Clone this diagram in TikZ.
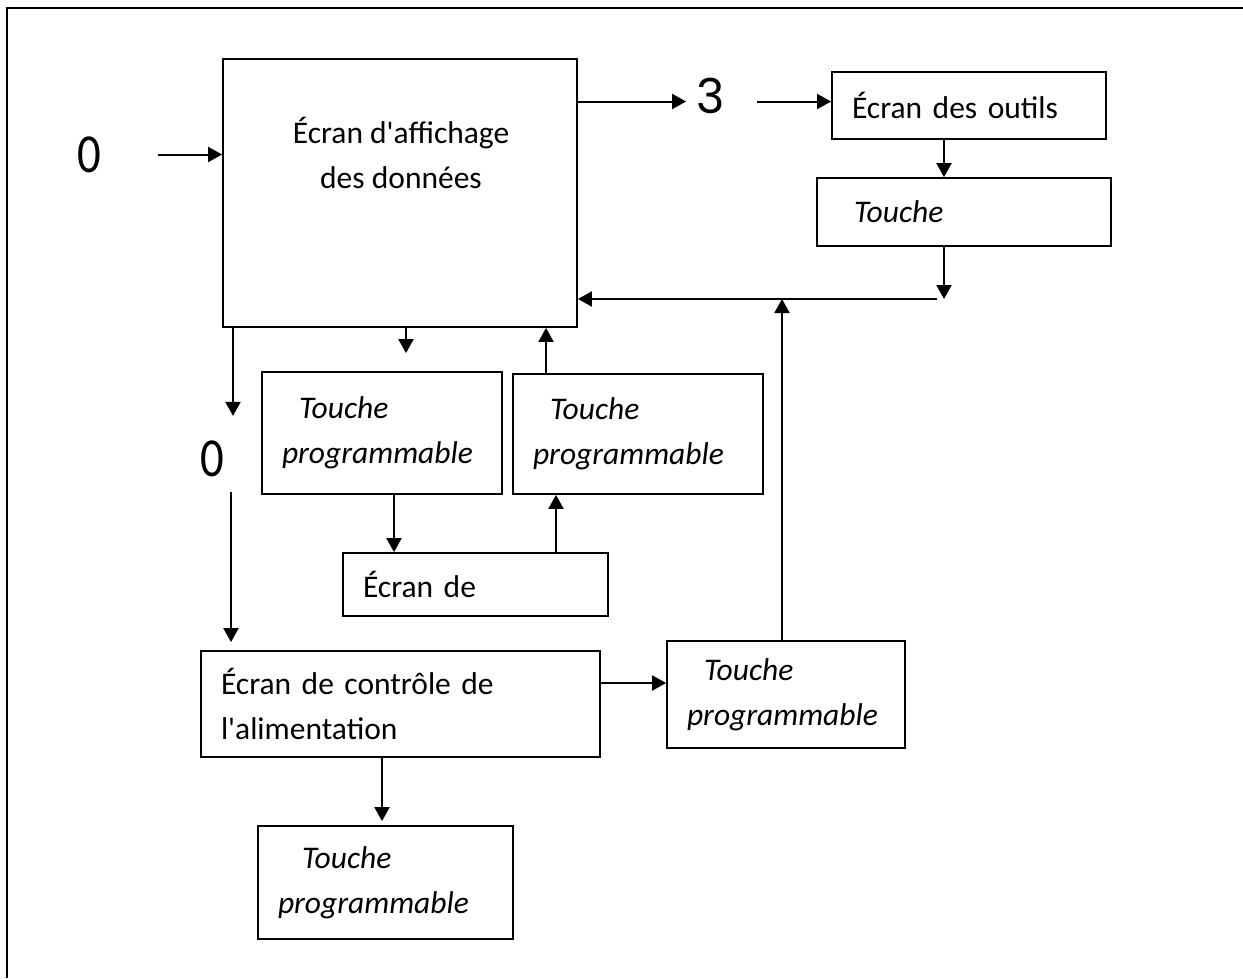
\documentclass[tikz,border=0pt]{standalone}
\usepackage{fontspec}
\setmainfont{Carlito}
\newfontfamily\threefont{Poppins}
\usepackage{xcolor}
\usepackage{tikz}
\usetikzlibrary{arrows.meta,positioning}

\begin{document}
\begin{tikzpicture}[
        x=1pt, y=-1pt,
        every node/.style={font=\fontsize{31.5}{45}\selectfont},
        box/.style={draw, line width=1.8pt, inner xsep=20pt, inner ysep=0pt, align=left},
        key/.style={box, font=\fontsize{31.5}{45}\selectfont\itshape},
        num/.style={inner sep=0pt, xscale=0.85, font=\fontsize{55}{55}\selectfont},
        arr/.style={-{Triangle[length=14pt,width=15pt]}, line width=2pt}]

    \useasboundingbox (0,0) rectangle (1243,978);
    \draw[line width=2.5pt] (7,978) -- (7,8) -- (1243,8);

    % screens
    \node[box, minimum width=354pt, minimum height=268pt] (data) at (400,193) {};
    \node[align=center] (datatxt) at (401,153) {Écran d\textquotesingle affichage\\des données};
    \node[box, text width=234pt, minimum height=67pt] (tools) at (969,105.5) {Écran des outils};
    \node[key, text width=254pt, minimum height=68pt] (toolkey) at (964,212) {\hspace{17pt}Touche};
    \node[key, text width=200pt, minimum height=122pt] (softA) at (382,433) {\hspace{17pt}Touche\\programmable};
    \node[key, text width=210pt, minimum height=120pt] (softB) at (638,434) {\hspace{17pt}Touche\\programmable};
    \node[box, text width=225pt, minimum height=63pt] (sub) at (475.5,584.5) {Écran de};
    \node[box, text width=359pt, minimum height=106pt] (power) at (400.5,704) {Écran de contrôle de\\l\textquotesingle alimentation};
    \node[key, text width=198pt, minimum height=107pt] (softC) at (786,694.5) {\hspace{17pt}Touche\\programmable};
    \node[key, text width=215pt, minimum height=113pt] (softD) at (385.5,882.5) {\hspace{24pt}Touche\\programmable};

    % labels
    \node[num] (zeroA) at (89.5,154.5) {0};
    \node[num] (zeroB) at (212,459) {0};
    \node[inner sep=0pt, font=\threefont\fontsize{48}{48}\selectfont] (three) at (711,96) {3};
    \coordinate (join) at (944,299);

    % arrows
    \draw[arr, shorten <=56pt] (zeroA) -- (zeroA -| data.west);
    \draw[arr] ([yshift=91.5pt]data.east) -- ([yshift=4pt,xshift=-145pt]tools.west);
    \draw[arr] ([yshift=4pt,xshift=-74pt]tools.west) -- ([yshift=4pt]tools.west);
    \draw[arr] ([xshift=-25pt]tools.south) -- ([xshift=-25pt]tools.south |- toolkey.north);
    \draw[arr] ([xshift=-20pt]toolkey.south) -- (join);
    \draw[arr] ([xshift=-7pt]join) -- (join -| data.east);
    \draw[arr] ([xshift=-4pt]softC.north) -- ([xshift=-4pt]softC.north |- join);
    \draw[arr] ([xshift=6pt]data.south) -- ([xshift=6pt,yshift=18pt]data.south |- softA.north);
    \draw[arr] ([xshift=-92pt]softB.north) -- ([xshift=-92pt]softB.north |- data.south);
    \draw[arr] ([xshift=-167pt]data.south) -- ([xshift=-167pt,yshift=-88pt]data.south);
    \draw[arr] ([xshift=-169.5pt,yshift=158pt]power.north) -- ([xshift=-169.5pt,yshift=8pt]power.north);
    \draw[arr] ([xshift=12pt]softA.south) -- ([xshift=12pt]softA.south |- sub.north);
    \draw[arr] ([xshift=80.5pt]sub.north) -- ([xshift=80.5pt]sub.north |- softB.south);
    \draw[arr] ([yshift=21pt]power.east) -- ([yshift=21pt]power.east -| softC.west);
    \draw[arr] ([xshift=-18.5pt]power.south) -- ([xshift=-18.5pt,yshift=4pt]power.south |- softD.north);
\end{tikzpicture}
\end{document}
